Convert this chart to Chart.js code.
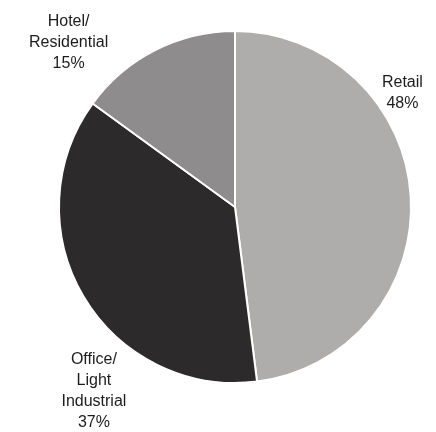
<!DOCTYPE html>
<html>
<head>
<meta charset="utf-8">
<style>
  html, body { margin: 0; padding: 0; background: #fff; }
  #wrap { position: relative; width: 436px; height: 432px; }
</style>
</head>
<body>
<div id="wrap">
  <canvas id="usoChart"></canvas>
</div>

<script src="https://cdn.jsdelivr.net/npm/chart.js"></script>
<script>
  // property mix by use
  var categorias = ['Retail', 'Office/Light Industrial', 'Hotel/Residential']
  var porcentajes = [48, 37, 15]
  var colores = ['#aeadac', '#2c2a2b', '#8e8c8c']
  // label text, split in lines
  var etiquetas = [
    ['Retail', '48%'],
    ['Office/', 'Light', 'Industrial', '37%'],
    ['Hotel/', 'Residential', '15%']
  ]
  // where each label sits: angle from 12 o'clock (deg) and distance in radii
  var etiquetaAngulo = [55.8, 217.4, 314.7]
  var etiquetaDist = [1.15, 1.32, 1.33]

  var etiquetasPlugin = {
    id: 'etiquetasPie',
    afterDatasetsDraw: function (chart) {
      var ctx = chart.ctx
      var arcs = chart.getDatasetMeta(0).data
      ctx.save()
      ctx.fillStyle = '#1c1c1c'
      ctx.font = '16px "Liberation Sans", Arial, sans-serif'
      ctx.textAlign = 'center'
      ctx.textBaseline = 'middle'
      arcs.forEach(function (arc, i) {
        var a = etiquetaAngulo[i] * Math.PI / 180
        var d = arc.outerRadius * etiquetaDist[i]
        var cx = arc.x + Math.sin(a) * d
        var cy = arc.y - Math.cos(a) * d
        var lineas = etiquetas[i]
        var alto = 21
        var y0 = cy - (lineas.length - 1) * alto / 2
        lineas.forEach(function (t, k) {
          ctx.fillText(t, cx, y0 + k * alto)
        })
      })
      ctx.restore()
    }
  }

  var ctxUso = document.getElementById('usoChart')

  var usoChart = new Chart(ctxUso, {
    type: 'pie',
    data: {
      labels: categorias,
      datasets: [{
        data: porcentajes,
        backgroundColor: colores,
        borderColor: '#ffffff',
        borderWidth: 2
      }]
    },
    options: {
      responsive: true,
      maintainAspectRatio: false,
      animation: false,
      layout: {
        padding: { left: 58, right: 24, top: 30, bottom: 48 }
      },
      plugins: {
        legend: { display: false },
        tooltip: { enabled: false }
      }
    },
    plugins: [etiquetasPlugin]
  })
</script>
</body>
</html>
